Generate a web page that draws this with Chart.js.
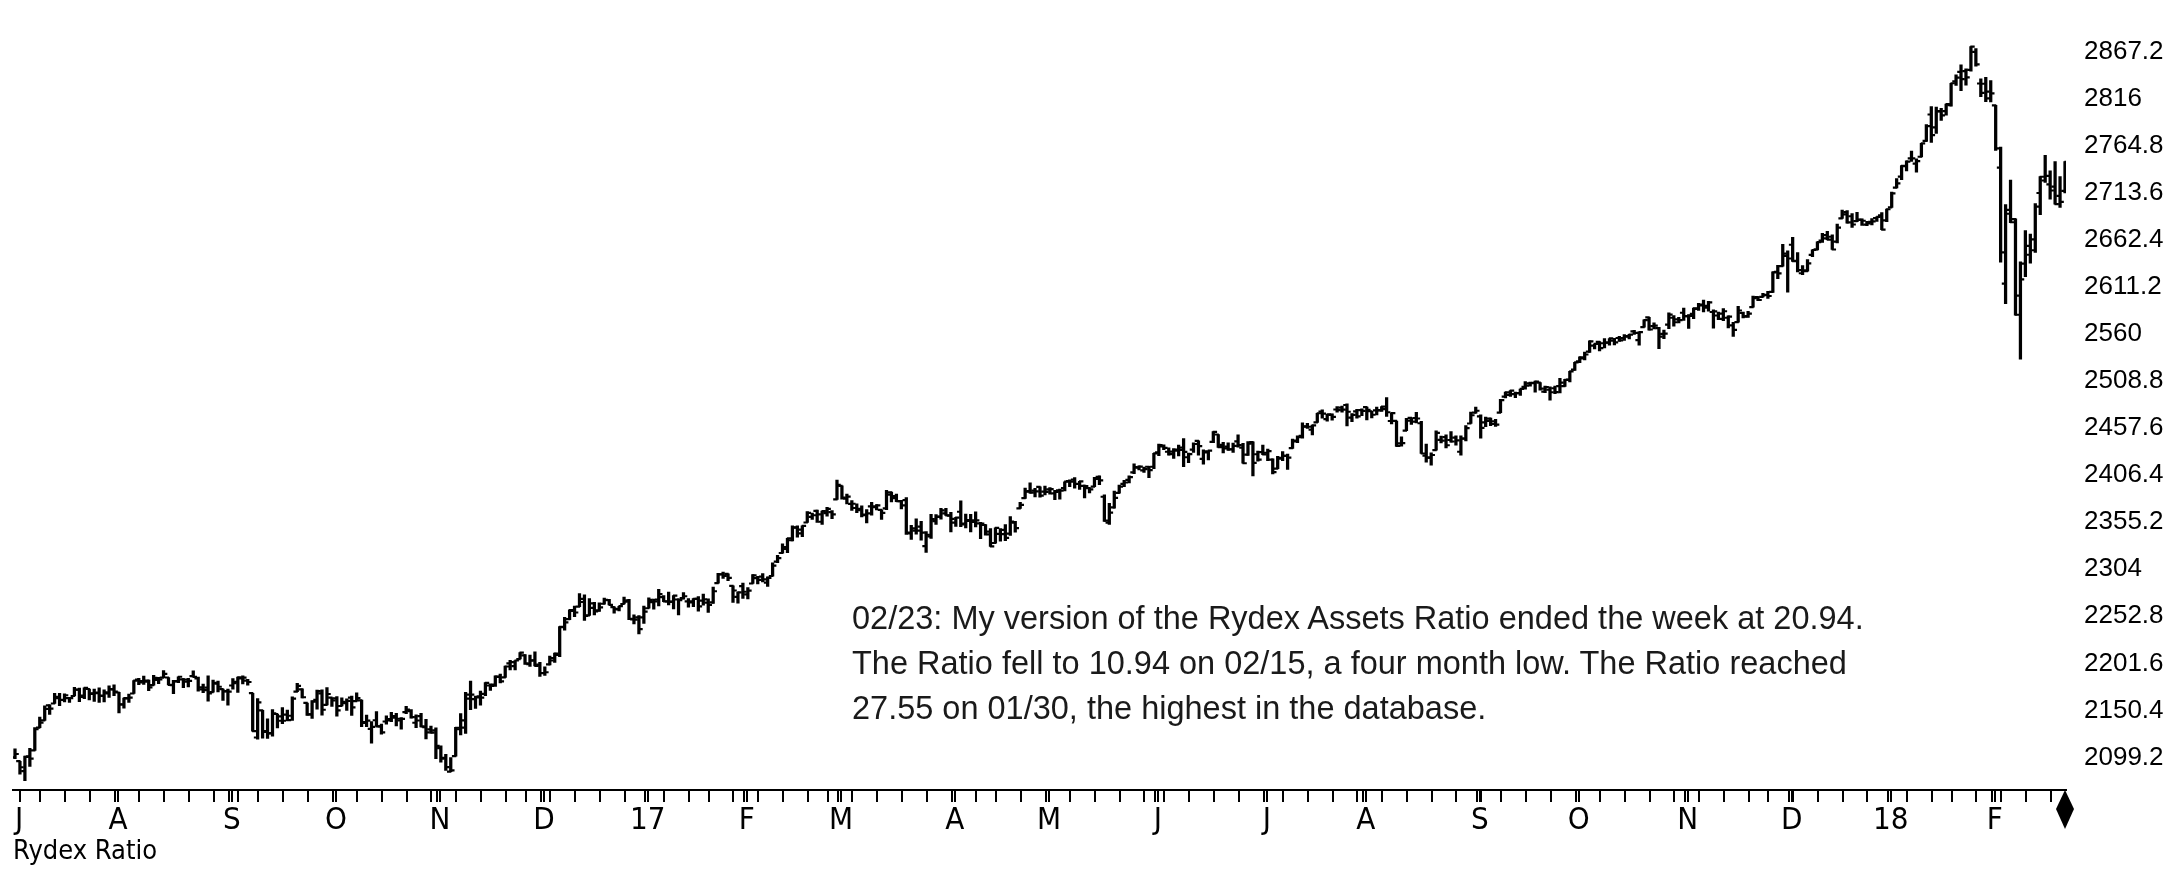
<!DOCTYPE html>
<html><head><meta charset="utf-8">
<script src="https://cdn.jsdelivr.net/npm/chart.js@4.4.1/dist/chart.umd.min.js"></script>
<style>
html,body{margin:0;padding:0;background:#fff;}
#wrap{position:relative;width:2184px;height:870px;background:#fff;}
#note{position:absolute;left:852px;top:596px;font-family:'Liberation Sans',Arial,sans-serif;font-size:32.5px;line-height:45px;color:#1a1a1a;white-space:nowrap;}
</style></head><body>
<div id="wrap"><canvas id="c" width="2184" height="870"></canvas>
<div id="note">02/23: My version of the Rydex Assets Ratio ended the week at 20.94.<br>The Ratio fell to 10.94 on 02/15, a four month low. The Ratio reached<br>27.55 on 01/30, the highest in the database.</div></div>
<script>
// ---- trading days (categories) ----
const dates = [
"2016-07-01","2016-07-05","2016-07-06","2016-07-07","2016-07-08","2016-07-11","2016-07-12","2016-07-13","2016-07-14","2016-07-15","2016-07-18","2016-07-19","2016-07-20","2016-07-21","2016-07-22","2016-07-25","2016-07-26","2016-07-27","2016-07-28","2016-07-29",
"2016-08-01","2016-08-02","2016-08-03","2016-08-04","2016-08-05","2016-08-08","2016-08-09","2016-08-10","2016-08-11","2016-08-12","2016-08-15","2016-08-16","2016-08-17","2016-08-18","2016-08-19","2016-08-22","2016-08-23","2016-08-24","2016-08-25","2016-08-26","2016-08-29","2016-08-30","2016-08-31",
"2016-09-01","2016-09-02","2016-09-06","2016-09-07","2016-09-08","2016-09-09","2016-09-12","2016-09-13","2016-09-14","2016-09-15","2016-09-16","2016-09-19","2016-09-20","2016-09-21","2016-09-22","2016-09-23","2016-09-26","2016-09-27","2016-09-28","2016-09-29","2016-09-30",
"2016-10-03","2016-10-04","2016-10-05","2016-10-06","2016-10-07","2016-10-10","2016-10-11","2016-10-12","2016-10-13","2016-10-14","2016-10-17","2016-10-18","2016-10-19","2016-10-20","2016-10-21","2016-10-24","2016-10-25","2016-10-26","2016-10-27","2016-10-28","2016-10-31",
"2016-11-01","2016-11-02","2016-11-03","2016-11-04","2016-11-07","2016-11-08","2016-11-09","2016-11-10","2016-11-11","2016-11-14","2016-11-15","2016-11-16","2016-11-17","2016-11-18","2016-11-21","2016-11-22","2016-11-23","2016-11-25","2016-11-28","2016-11-29","2016-11-30",
"2016-12-01","2016-12-02","2016-12-05","2016-12-06","2016-12-07","2016-12-08","2016-12-09","2016-12-12","2016-12-13","2016-12-14","2016-12-15","2016-12-16","2016-12-19","2016-12-20","2016-12-21","2016-12-22","2016-12-23","2016-12-27","2016-12-28","2016-12-29","2016-12-30",
"2017-01-03","2017-01-04","2017-01-05","2017-01-06","2017-01-09","2017-01-10","2017-01-11","2017-01-12","2017-01-13","2017-01-17","2017-01-18","2017-01-19","2017-01-20","2017-01-23","2017-01-24","2017-01-25","2017-01-26","2017-01-27","2017-01-30","2017-01-31",
"2017-02-01","2017-02-02","2017-02-03","2017-02-06","2017-02-07","2017-02-08","2017-02-09","2017-02-10","2017-02-13","2017-02-14","2017-02-15","2017-02-16","2017-02-17","2017-02-21","2017-02-22","2017-02-23","2017-02-24","2017-02-27","2017-02-28",
"2017-03-01","2017-03-02","2017-03-03","2017-03-06","2017-03-07","2017-03-08","2017-03-09","2017-03-10","2017-03-13","2017-03-14","2017-03-15","2017-03-16","2017-03-17","2017-03-20","2017-03-21","2017-03-22","2017-03-23","2017-03-24","2017-03-27","2017-03-28","2017-03-29","2017-03-30","2017-03-31",
"2017-04-03","2017-04-04","2017-04-05","2017-04-06","2017-04-07","2017-04-10","2017-04-11","2017-04-12","2017-04-13","2017-04-17","2017-04-18","2017-04-19","2017-04-20","2017-04-21","2017-04-24","2017-04-25","2017-04-26","2017-04-27","2017-04-28",
"2017-05-01","2017-05-02","2017-05-03","2017-05-04","2017-05-05","2017-05-08","2017-05-09","2017-05-10","2017-05-11","2017-05-12","2017-05-15","2017-05-16","2017-05-17","2017-05-18","2017-05-19","2017-05-22","2017-05-23","2017-05-24","2017-05-25","2017-05-26","2017-05-30","2017-05-31",
"2017-06-01","2017-06-02","2017-06-05","2017-06-06","2017-06-07","2017-06-08","2017-06-09","2017-06-12","2017-06-13","2017-06-14","2017-06-15","2017-06-16","2017-06-19","2017-06-20","2017-06-21","2017-06-22","2017-06-23","2017-06-26","2017-06-27","2017-06-28","2017-06-29","2017-06-30",
"2017-07-03","2017-07-05","2017-07-06","2017-07-07","2017-07-10","2017-07-11","2017-07-12","2017-07-13","2017-07-14","2017-07-17","2017-07-18","2017-07-19","2017-07-20","2017-07-21","2017-07-24","2017-07-25","2017-07-26","2017-07-27","2017-07-28","2017-07-31",
"2017-08-01","2017-08-02","2017-08-03","2017-08-04","2017-08-07","2017-08-08","2017-08-09","2017-08-10","2017-08-11","2017-08-14","2017-08-15","2017-08-16","2017-08-17","2017-08-18","2017-08-21","2017-08-22","2017-08-23","2017-08-24","2017-08-25","2017-08-28","2017-08-29","2017-08-30","2017-08-31",
"2017-09-01","2017-09-05","2017-09-06","2017-09-07","2017-09-08","2017-09-11","2017-09-12","2017-09-13","2017-09-14","2017-09-15","2017-09-18","2017-09-19","2017-09-20","2017-09-21","2017-09-22","2017-09-25","2017-09-26","2017-09-27","2017-09-28","2017-09-29",
"2017-10-02","2017-10-03","2017-10-04","2017-10-05","2017-10-06","2017-10-09","2017-10-10","2017-10-11","2017-10-12","2017-10-13","2017-10-16","2017-10-17","2017-10-18","2017-10-19","2017-10-20","2017-10-23","2017-10-24","2017-10-25","2017-10-26","2017-10-27","2017-10-30","2017-10-31",
"2017-11-01","2017-11-02","2017-11-03","2017-11-06","2017-11-07","2017-11-08","2017-11-09","2017-11-10","2017-11-13","2017-11-14","2017-11-15","2017-11-16","2017-11-17","2017-11-20","2017-11-21","2017-11-22","2017-11-24","2017-11-27","2017-11-28","2017-11-29","2017-11-30",
"2017-12-01","2017-12-04","2017-12-05","2017-12-06","2017-12-07","2017-12-08","2017-12-11","2017-12-12","2017-12-13","2017-12-14","2017-12-15","2017-12-18","2017-12-19","2017-12-20","2017-12-21","2017-12-22","2017-12-26","2017-12-27","2017-12-28","2017-12-29",
"2018-01-02","2018-01-03","2018-01-04","2018-01-05","2018-01-08","2018-01-09","2018-01-10","2018-01-11","2018-01-12","2018-01-16","2018-01-17","2018-01-18","2018-01-19","2018-01-22","2018-01-23","2018-01-24","2018-01-25","2018-01-26","2018-01-29","2018-01-30","2018-01-31",
"2018-02-01","2018-02-02","2018-02-05","2018-02-06","2018-02-07","2018-02-08","2018-02-09","2018-02-12","2018-02-13","2018-02-14","2018-02-15","2018-02-16","2018-02-20","2018-02-21","2018-02-22","2018-02-23"
];

// ---- series values ----
const opens = [
2099.3,2095.1,2084.4,2100.4,2106.97,2131.7,2139.5,2155.8,2157.9,2165.1,2162.0,2163.8,2166.1,2172.9,2166.5,2173.7,2168.97,2169.8,2166.05,2168.8,
2173.2,2169.9,2156.8,2163.5,2168.8,2183.8,2182.2,2182.8,2177.97,2183.7,2186.1,2186.2,2177.8,2181.9,2184.2,2181.6,2187.8,2185.1,2173.3,2175.1,2170.2,2179.5,2173.6,
2171.3,2177.5,2181.6,2185.2,2182.8,2169.1,2120.9,2150.5,2127.9,2125.4,2146.5,2143.99,2145.9,2144.6,2170.9,2173.3,2158.5,2146.0,2161.9,2168.9,2156.5,
2164.3,2163.4,2155.2,2158.2,2164.2,2160.4,2161.4,2137.7,2130.3,2139.7,2132.95,2138.3,2140.8,2142.5,2139.4,2148.5,2149.7,2136.97,2144.1,2132.2,2129.8,
2128.7,2109.4,2098.8,2083.8,2100.6,2129.9,2131.6,2167.5,2162.7,2165.6,2168.3,2177.5,2178.6,2186.85,2186.4,2201.6,2198.6,2206.3,2210.2,2200.8,2204.97,
2200.2,2191.1,2200.6,2207.3,2210.7,2241.1,2249.7,2258.8,2263.3,2268.4,2253.8,2266.8,2259.2,2266.5,2270.5,2262.9,2260.25,2266.2,2270.2,2249.5,2251.6,
2251.6,2261.6,2268.2,2271.1,2273.6,2269.0,2268.6,2271.1,2272.7,2269.1,2269.1,2271.9,2269.96,2267.8,2267.9,2288.9,2298.6,2299.0,2286.0,2274.0,
2285.6,2276.7,2288.5,2294.3,2295.9,2289.55,2296.7,2312.3,2321.7,2326.1,2335.6,2349.6,2343.0,2354.9,2361.1,2367.5,2355.7,2365.2,2366.1,
2380.1,2394.75,2380.9,2375.2,2370.7,2369.8,2363.5,2372.5,2371.6,2368.6,2370.3,2387.7,2383.7,2378.2,2379.3,2343.0,2345.97,2350.4,2329.1,2339.8,2356.5,2361.3,2364.8,
2362.3,2354.8,2366.6,2353.8,2356.6,2357.2,2353.9,2352.2,2341.98,2332.6,2342.5,2346.8,2342.7,2354.7,2370.3,2381.5,2388.98,2389.7,2393.7,
2388.5,2391.05,2386.5,2389.8,2392.4,2399.9,2401.6,2396.8,2394.8,2392.4,2393.98,2404.55,2382.95,2354.7,2371.4,2387.2,2397.0,2401.4,2409.5,2414.5,2411.7,2415.6,
2415.6,2431.3,2437.8,2431.9,2432.0,2434.3,2436.4,2425.9,2434.15,2443.75,2424.1,2431.2,2442.55,2450.7,2439.3,2437.4,2434.65,2443.3,2436.3,2428.7,2442.4,2429.2,
2431.4,2430.8,2423.4,2413.5,2424.5,2427.35,2435.75,2444.0,2449.2,2459.5,2455.9,2463.85,2475.6,2467.4,2472.0,2477.9,2479.97,2482.8,2469.1,2475.9,
2477.1,2480.4,2476.0,2476.9,2477.1,2478.35,2465.35,2465.4,2441.04,2454.96,2468.7,2468.6,2462.95,2427.6,2425.5,2433.75,2444.9,2447.9,2444.7,2447.35,2431.9,2446.1,2462.65,
2474.4,2470.35,2463.8,2468.06,2462.25,2474.5,2491.9,2493.9,2494.6,2495.7,2502.5,2506.3,2506.8,2507.2,2497.3,2499.4,2501.0,2503.3,2503.4,2510.4,
2521.2,2530.3,2533.5,2540.9,2547.4,2551.4,2549.99,2550.6,2552.9,2555.7,2555.6,2557.2,2562.9,2553.4,2567.6,2578.1,2568.7,2566.5,2560.1,2570.3,2577.75,2575.99,
2583.2,2579.5,2581.9,2587.5,2592.1,2588.7,2584.0,2580.2,2576.5,2577.75,2569.45,2572.95,2582.9,2579.5,2589.2,2600.3,2600.4,2602.7,2605.9,2627.8,2633.9,
2645.1,2657.2,2639.8,2626.2,2628.4,2646.2,2652.2,2661.7,2667.6,2665.9,2660.6,2685.9,2692.7,2688.2,2683.0,2684.2,2679.1,2682.1,2686.1,2689.15,
2683.7,2697.85,2719.3,2731.3,2742.7,2751.15,2745.55,2752.97,2770.2,2798.96,2784.99,2802.4,2802.6,2809.2,2835.05,2845.4,2846.2,2847.5,2867.2,2832.7,2832.4,
2816.45,2808.9,2741.06,2614.8,2690.95,2685.0,2601.8,2636.75,2646.3,2651.2,2713.5,2727.1,2722.99,2720.5,2710.4,2715.8
];
const highs = [
2108.7,2095.1,2100.7,2109.1,2131.7,2143.2,2155.4,2156.4,2169.1,2169.1,2168.4,2164.6,2175.6,2174.6,2175.1,2173.7,2173.5,2174.98,2172.9,2177.1,
2178.3,2170.2,2163.8,2168.2,2182.9,2185.4,2187.7,2183.4,2188.5,2186.3,2193.8,2186.2,2183.1,2187.0,2185.0,2185.2,2193.4,2186.7,2179.0,2187.9,2183.5,2182.3,2173.6,
2173.6,2184.9,2186.6,2187.9,2184.1,2169.1,2163.3,2150.5,2141.3,2151.3,2146.5,2153.6,2150.8,2165.1,2179.99,2173.8,2158.5,2161.1,2172.4,2172.7,2175.3,
2164.4,2165.5,2163.95,2162.9,2165.9,2169.6,2161.6,2145.4,2138.2,2149.2,2135.6,2144.4,2148.4,2147.2,2142.6,2154.8,2151.4,2145.7,2147.1,2140.7,2133.25,
2131.5,2111.8,2102.6,2099.1,2132.0,2146.9,2170.1,2182.3,2165.9,2171.4,2180.8,2179.2,2188.1,2189.9,2198.7,2204.8,2204.7,2213.4,2211.1,2210.5,2214.1,
2202.6,2197.9,2209.4,2212.8,2241.6,2251.7,2259.8,2264.0,2277.5,2276.2,2272.1,2268.05,2267.5,2272.6,2271.2,2263.2,2263.8,2273.8,2271.3,2254.5,2253.6,
2263.9,2272.8,2271.5,2282.1,2275.5,2279.3,2275.3,2271.8,2278.7,2272.1,2272.0,2274.3,2276.96,2271.8,2284.6,2299.55,2300.99,2299.0,2286.0,2279.1,
2289.1,2283.97,2298.3,2296.2,2299.4,2295.9,2311.1,2319.2,2331.6,2337.6,2351.3,2351.3,2351.2,2366.7,2365.1,2368.3,2367.3,2371.5,2367.8,
2400.98,2394.75,2385.9,2378.8,2375.1,2373.1,2369.1,2376.9,2374.4,2368.6,2390.0,2388.1,2385.7,2379.0,2381.9,2351.8,2358.9,2356.2,2344.9,2363.8,2363.4,2370.4,2370.35,
2365.9,2360.5,2378.4,2364.2,2363.8,2366.4,2355.2,2352.7,2348.3,2349.1,2348.35,2352.6,2361.4,2356.2,2376.98,2392.5,2398.2,2392.1,2393.7,
2394.5,2392.9,2389.8,2391.4,2399.3,2401.36,2403.9,2399.7,2395.7,2392.9,2404.05,2405.8,2384.9,2375.7,2389.1,2395.5,2400.85,2405.6,2418.7,2416.7,2415.3,2415.99,
2430.06,2440.2,2439.55,2436.2,2435.3,2439.3,2446.2,2430.4,2441.5,2443.75,2433.95,2433.15,2453.8,2450.7,2442.2,2441.6,2441.4,2450.4,2441.0,2442.97,2442.7,2432.7,
2439.2,2434.9,2424.3,2426.9,2432.0,2429.3,2445.8,2449.3,2463.5,2462.8,2460.9,2473.8,2477.6,2472.5,2473.1,2481.2,2481.7,2484.0,2473.5,2477.96,
2478.5,2480.4,2476.0,2480.4,2480.95,2490.9,2474.4,2465.4,2448.1,2468.2,2468.9,2474.9,2465.0,2440.3,2430.6,2454.8,2448.9,2450.4,2453.96,2449.1,2449.2,2460.3,2475.0,
2480.4,2471.97,2469.6,2468.6,2467.1,2488.95,2496.8,2498.4,2496.8,2500.2,2508.3,2507.8,2508.85,2507.2,2503.5,2502.5,2503.5,2511.75,2510.8,2519.4,
2529.2,2535.1,2540.5,2552.5,2549.4,2551.8,2555.2,2555.2,2555.3,2557.65,2559.5,2559.7,2564.1,2562.4,2575.4,2578.3,2572.2,2567.4,2564.3,2582.98,2580.0,2578.3,
2588.4,2581.1,2588.4,2593.4,2597.0,2595.5,2586.5,2583.8,2587.7,2579.7,2572.8,2590.1,2583.96,2584.6,2601.2,2600.9,2604.2,2606.4,2627.7,2634.9,2657.7,
2650.6,2665.2,2648.7,2634.4,2640.99,2651.65,2660.3,2669.7,2671.9,2668.1,2679.6,2694.97,2694.4,2691.0,2692.6,2685.35,2682.7,2685.6,2687.7,2692.1,
2695.9,2714.4,2729.3,2743.45,2748.5,2759.1,2750.8,2767.6,2787.85,2807.5,2807.0,2805.8,2810.3,2833.0,2842.2,2852.97,2848.6,2872.9,2870.6,2837.75,2839.3,
2835.96,2808.9,2763.4,2701.0,2727.7,2685.3,2638.7,2672.6,2668.8,2702.1,2731.5,2754.4,2737.6,2747.75,2731.3,2747.8
];
const lows = [
2097.9,2080.9,2074.0,2089.4,2106.97,2131.7,2139.5,2146.0,2157.9,2155.5,2159.5,2159.0,2166.1,2159.8,2163.2,2161.9,2160.2,2159.1,2159.7,2164.4,
2166.4,2147.6,2152.7,2159.1,2168.8,2178.5,2178.6,2172.0,2177.97,2179.4,2186.1,2178.1,2168.5,2180.5,2175.1,2175.96,2186.8,2171.25,2169.7,2160.4,2170.2,2170.4,2161.35,
2156.1,2173.6,2170.1,2179.1,2177.85,2127.8,2119.1,2120.3,2119.9,2122.4,2131.2,2135.9,2139.2,2139.6,2170.9,2163.97,2145.0,2141.6,2151.8,2145.2,2156.5,
2154.8,2144.0,2155.2,2150.3,2144.9,2160.4,2132.8,2132.8,2114.7,2132.98,2124.4,2135.5,2138.2,2133.4,2130.1,2146.9,2141.9,2131.6,2132.5,2119.4,2125.5,
2097.9,2094.0,2085.2,2083.8,2100.6,2123.6,2125.4,2151.2,2152.5,2156.1,2166.4,2172.2,2176.6,2180.4,2186.4,2194.5,2194.5,2206.3,2200.4,2198.15,2198.8,
2187.4,2188.4,2199.97,2202.5,2208.9,2237.6,2249.2,2252.4,2263.3,2248.4,2253.8,2254.2,2258.2,2266.1,2265.2,2256.1,2258.8,2266.2,2249.1,2244.6,2233.6,
2245.1,2261.6,2260.45,2264.1,2268.8,2265.3,2260.8,2254.25,2271.5,2262.8,2263.35,2258.4,2265.0,2257.0,2266.7,2288.9,2294.1,2291.6,2268.0,2267.2,
2272.4,2271.65,2288.5,2288.0,2290.2,2285.4,2296.6,2311.1,2321.4,2322.2,2334.8,2338.9,2339.6,2354.9,2358.3,2355.1,2352.9,2361.9,2358.96,
2380.1,2380.2,2375.1,2367.98,2365.5,2361.0,2354.5,2363.0,2368.5,2358.2,2368.9,2377.2,2377.6,2369.7,2341.9,2336.45,2342.1,2335.7,2322.25,2337.6,2352.9,2358.6,2362.6,
2344.7,2350.7,2350.5,2348.9,2344.7,2350.0,2337.25,2341.2,2328.95,2332.5,2334.5,2335.05,2340.9,2344.5,2370.3,2381.2,2386.8,2382.7,2382.4,
2384.8,2385.8,2379.75,2380.35,2389.4,2393.9,2392.4,2390.9,2381.7,2387.2,2393.9,2396.05,2356.2,2352.7,2370.4,2386.9,2393.9,2397.99,2408.0,2412.2,2409.4,2403.6,
2413.5,2427.7,2434.3,2428.1,2424.75,2427.4,2415.7,2419.97,2431.3,2428.3,2418.5,2422.9,2441.8,2436.6,2430.7,2433.3,2431.1,2437.0,2419.4,2428.0,2405.7,2421.65,
2428.7,2422.1,2407.7,2413.5,2422.3,2412.8,2435.6,2441.7,2446.7,2457.2,2450.3,2463.85,2468.4,2465.1,2466.3,2474.9,2474.9,2459.9,2464.7,2468.5,
2471.1,2466.5,2468.85,2472.1,2475.9,2470.3,2462.1,2437.75,2437.85,2454.96,2461.6,2463.2,2430.0,2420.7,2417.35,2433.7,2441.4,2436.2,2442.2,2439.0,2428.2,2443.8,2462.65,
2473.85,2446.55,2459.2,2460.3,2459.4,2474.5,2490.4,2492.1,2490.7,2493.2,2499.9,2503.2,2496.7,2499.0,2496.1,2488.0,2495.1,2495.9,2502.9,2507.99,
2520.4,2528.85,2531.8,2540.0,2543.8,2541.6,2544.9,2547.95,2548.3,2552.1,2553.2,2554.7,2559.7,2547.9,2567.6,2564.3,2565.6,2544.0,2555.0,2565.9,2568.7,2572.15,
2574.9,2566.2,2576.8,2585.7,2584.1,2585.0,2566.3,2575.6,2574.5,2566.6,2557.45,2572.95,2577.6,2578.2,2589.2,2596.3,2600.4,2598.9,2605.4,2620.3,2633.9,
2605.5,2639.0,2627.7,2624.75,2628.4,2644.1,2651.5,2659.8,2662.85,2652.0,2659.1,2685.9,2680.7,2676.1,2682.4,2678.1,2677.96,2678.9,2682.7,2673.6,
2682.4,2697.8,2719.1,2727.9,2737.6,2747.9,2736.1,2752.8,2769.6,2768.6,2778.4,2792.6,2798.1,2808.1,2830.6,2824.8,2830.9,2846.2,2851.5,2818.3,2813.0,
2812.7,2759.97,2638.2,2593.1,2681.3,2580.6,2532.7,2622.45,2637.1,2648.9,2689.8,2725.1,2706.8,2701.3,2697.8,2713.7
];
const closes = [
2102.95,2088.55,2099.73,2097.90,2129.90,2137.16,2152.14,2152.43,2163.75,2161.74,2166.89,2163.78,2173.02,2165.17,2175.03,2168.48,2169.18,2166.58,2170.06,2173.60,
2170.84,2157.03,2163.79,2164.25,2182.87,2180.89,2181.74,2175.49,2185.79,2184.05,2190.15,2178.15,2182.22,2187.02,2183.87,2182.64,2186.90,2175.44,2172.47,2169.04,2180.38,2176.12,2170.95,
2170.86,2179.98,2186.48,2186.16,2181.30,2127.81,2159.04,2127.02,2125.77,2147.26,2139.16,2139.12,2139.76,2163.12,2177.18,2164.69,2146.10,2159.93,2171.37,2151.13,2168.27,
2161.20,2150.49,2159.73,2160.77,2153.74,2163.66,2136.73,2139.18,2132.55,2132.98,2126.50,2139.60,2144.29,2141.34,2141.16,2151.33,2143.16,2139.43,2133.04,2126.41,2126.15,
2111.72,2097.94,2088.66,2085.18,2131.52,2139.56,2163.26,2167.48,2164.45,2164.20,2180.39,2176.94,2187.12,2181.90,2198.18,2202.94,2204.72,2213.35,2201.72,2204.66,2198.81,
2191.08,2191.95,2204.71,2212.23,2241.35,2246.19,2259.53,2256.96,2271.72,2253.28,2262.03,2258.07,2262.53,2270.76,2265.18,2260.96,2263.79,2268.88,2249.92,2249.26,2238.83,
2257.83,2270.75,2269.00,2276.98,2268.90,2268.90,2275.32,2270.44,2274.64,2267.89,2271.89,2263.69,2271.31,2265.20,2280.07,2298.37,2296.68,2294.69,2280.90,2278.87,
2279.55,2280.85,2297.42,2292.56,2293.08,2294.67,2307.87,2316.10,2328.25,2337.58,2349.25,2347.22,2351.16,2365.38,2362.82,2363.81,2367.34,2369.75,2363.64,
2395.96,2381.92,2383.12,2375.31,2368.39,2362.98,2364.87,2372.60,2373.47,2365.45,2385.26,2381.38,2378.25,2373.47,2344.02,2348.45,2345.96,2343.98,2341.59,2358.57,2361.13,2368.06,2362.72,
2358.84,2360.16,2352.95,2357.49,2355.54,2357.16,2353.78,2344.93,2328.95,2349.01,2342.19,2338.17,2355.84,2348.69,2374.15,2388.61,2387.45,2388.77,2384.20,
2388.33,2391.17,2388.13,2389.52,2399.29,2399.38,2396.92,2399.63,2394.44,2390.90,2402.32,2400.67,2357.03,2365.72,2381.73,2394.02,2398.42,2404.39,2415.07,2415.82,2412.91,2411.80,
2430.06,2439.07,2436.10,2429.33,2433.14,2433.79,2431.77,2429.39,2440.35,2437.92,2432.46,2433.15,2453.46,2437.03,2435.61,2434.50,2438.30,2439.07,2419.38,2440.69,2419.70,2423.41,
2429.01,2432.54,2409.75,2425.18,2427.43,2425.53,2443.25,2447.83,2459.27,2459.14,2460.61,2473.83,2473.45,2472.54,2469.91,2477.13,2477.83,2475.42,2472.10,2470.30,
2476.35,2477.57,2472.16,2476.83,2480.91,2474.92,2474.02,2438.21,2441.32,2465.84,2464.61,2468.11,2430.01,2425.55,2428.37,2452.51,2444.04,2438.97,2443.05,2444.24,2446.30,2457.59,2471.65,
2476.55,2457.85,2465.54,2465.10,2461.43,2488.11,2496.48,2498.37,2495.62,2500.23,2503.87,2506.65,2508.24,2500.60,2502.22,2496.66,2496.84,2507.04,2510.06,2519.36,
2529.12,2534.58,2537.74,2552.07,2549.33,2544.73,2550.64,2555.24,2550.93,2553.17,2557.64,2559.36,2561.26,2562.10,2575.21,2564.98,2569.13,2557.15,2560.40,2581.07,2572.83,2575.26,
2579.36,2579.85,2587.84,2591.13,2590.64,2594.38,2584.62,2582.30,2584.84,2578.87,2564.62,2585.64,2578.85,2582.14,2599.03,2597.08,2602.42,2601.42,2627.04,2626.07,2647.58,
2642.22,2639.44,2629.57,2629.27,2636.98,2651.50,2659.99,2664.11,2662.85,2652.01,2675.81,2690.16,2681.47,2679.25,2684.57,2683.34,2680.50,2682.62,2687.54,2673.61,
2695.81,2713.06,2723.99,2743.15,2747.71,2751.29,2748.23,2767.56,2786.24,2776.42,2802.56,2798.03,2810.30,2832.97,2839.13,2837.54,2839.25,2872.87,2853.53,2822.43,2823.81,
2821.98,2762.13,2648.94,2695.14,2681.66,2581.00,2619.55,2656.00,2662.94,2698.63,2731.20,2732.22,2716.26,2701.33,2703.96,2747.30
];

// ---- tick labels ----
const yTickValues = [2099.2,2150.4,2201.6,2252.8,2304,2355.2,2406.4,2457.6,2508.8,2560,2611.2,2662.4,2713.6,2764.8,2816,2867.2];
const monthLetters = ['J','F','M','A','M','J','J','A','S','O','N','D'];
const bottomTitle = 'Rydex Ratio';

// ---- build chart ----
const n = dates.length;
const yMin = 2063.77, yMax = 2887.0;
const idx = dates.map((d, i) => i);
const hlData = idx.map(i => ({x: i, y: [lows[i], highs[i]]}));
const openData = idx.map(i => ({x: i - 0.32, y: opens[i]}));
const closeData = idx.map(i => ({x: i + 0.32, y: closes[i]}));

const xTicks = [];
for (let i = 0; i < n; i++) {
  const d = new Date(dates[i] + 'T00:00:00Z');
  const p = i > 0 ? new Date(dates[i - 1] + 'T00:00:00Z') : null;
  const newMonth = !p || d.getUTCMonth() !== p.getUTCMonth();
  const newWeek = p && (d.getUTCDay() <= p.getUTCDay() || (d - p) > 6 * 864e5);
  if (newMonth) {
    const m = d.getUTCMonth();
    const lab = m === 0 ? String(d.getUTCFullYear()).slice(2) : monthLetters[m];
    xTicks.push({value: i + 0.2, lab: lab, hide: i === 0});
    if (i > 0) xTicks.push({value: i + 0.8, lab: ''});
  } else if (newWeek) {
    xTicks.push({value: i + 0.1, lab: ''});
  }
}

// diamond marker image (drawn in lower half so it hangs below the axis)
const dia = document.createElement('canvas');
dia.width = 24; dia.height = 82;
(function(){
  const g = dia.getContext('2d');
  g.fillStyle = '#000';
  g.beginPath();
  g.moveTo(12, 41); g.lineTo(21, 60); g.lineTo(12, 80); g.lineTo(3, 60); g.closePath();
  g.fill();
})();

const narrow = "'Liberation Sans Narrow','DejaVu Sans Condensed','Liberation Sans',sans-serif";

new Chart(document.getElementById('c'), {
  type: 'bar',
  data: {
    datasets: [
      {type: 'bar', data: hlData, backgroundColor: '#000', borderWidth: 0, barThickness: 2.6, grouped: false, order: 2},
      {type: 'scatter', data: openData, pointStyle: 'line', pointRadius: 2.2, pointBorderWidth: 2.2, borderColor: '#000', pointBorderColor: '#000', pointHoverRadius: 2.2, showLine: false, order: 1},
      {type: 'scatter', data: closeData, pointStyle: 'line', pointRadius: 2.2, pointBorderWidth: 2.2, borderColor: '#000', pointBorderColor: '#000', pointHoverRadius: 2.2, showLine: false, order: 1},
      {type: 'scatter', data: [{x: n - 1, y: yMin}], pointStyle: dia, pointRadius: 10, clip: false, order: 0}
    ]
  },
  options: {
    responsive: false,
    devicePixelRatio: 1,
    animation: false,
    events: [],
    layout: {padding: {left: 13, right: 0, top: 0, bottom: 0}},
    plugins: {legend: {display: false}, tooltip: {enabled: false}, title: {display: false}},
    scales: {
      x: {
        type: 'linear',
        position: 'bottom',
        bounds: 'data',
        min: -0.404, max: 414.202,
        offset: false,
        afterFit: s => { s.height = 80; },
        afterBuildTicks: s => { s.ticks = xTicks.map(t => Object.assign({}, t)); },
        grid: {
          offset: false, drawOnChartArea: false, drawTicks: true, tickLength: 12, lineWidth: 2,
          color: c => (c.tick && c.tick.hide) ? 'rgba(0,0,0,0)' : '#000'
        },
        border: {display: true, color: '#000', width: 2},
        ticks: {
          autoSkip: false, maxRotation: 0, minRotation: 0, padding: 0, labelOffset: 3,
          color: '#000', font: {family: narrow, size: 31},
          callback: (v, i, t) => (t[i] && t[i].lab) || ''
        },
        title: {display: true, text: bottomTitle, align: 'start', color: '#000',
                font: {family: narrow, size: 27}, padding: {top: 0, bottom: 2}}
      },
      y: {
        type: 'linear',
        position: 'right',
        bounds: 'data',
        min: yMin, max: yMax,
        afterFit: s => { s.width = 118; },
        afterBuildTicks: s => { s.ticks = yTickValues.map(v => ({value: v})); },
        grid: {display: false, drawTicks: false},
        border: {display: false},
        ticks: {
          padding: 18, color: '#000', font: {family: "'Liberation Sans',Arial,sans-serif", size: 26},
          callback: v => String(Number(v.toFixed(1)))
        }
      }
    }
  }
});
</script>
</body></html>
